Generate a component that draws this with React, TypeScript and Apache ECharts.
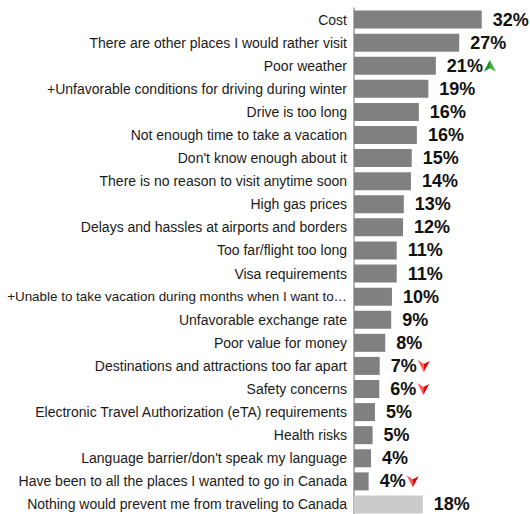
import React, { useEffect, useRef } from "react";
import * as echarts from "echarts";

const categories = [
  "Cost",
  "There are other places I would rather visit",
  "Poor weather",
  "+Unfavorable conditions for driving during winter",
  "Drive is too long",
  "Not enough time to take a vacation",
  "Don't know enough about it",
  "There is no reason to visit anytime soon",
  "High gas prices",
  "Delays and hassles at airports and borders",
  "Too far/flight too long",
  "Visa requirements",
  "+Unable to take vacation during months when I want to\u2026",
  "Unfavorable exchange rate",
  "Poor value for money",
  "Destinations and attractions too far apart",
  "Safety concerns",
  "Electronic Travel Authorization (eTA) requirements",
  "Health risks",
  "Language barrier/don't speak my language",
  "Have been to all the places I wanted to go in Canada",
  "Nothing would prevent me from traveling to Canada",
];

const values = [
  32.3, 26.6, 20.7, 18.8, 16.4, 15.9, 14.6, 14.4, 12.6, 12.4, 10.8, 10.8, 9.6,
  9.4, 7.9, 6.5, 6.4, 5.3, 4.7, 4.3, 3.7, 17.4,
];

const displayLabels = [
  32, 27, 21, 19, 16, 16, 15, 14, 13, 12, 11, 11, 10, 9, 8, 7, 6, 5, 5, 4, 4, 18,
];

// "up" / "down" / "" trend markers
const trends = [
  "", "", "up", "", "", "", "", "", "", "", "", "", "", "", "", "down", "down",
  "", "", "", "down", "",
];

const highlightIndex = 21;
const longLabelIndex = 12;

const upSvg =
  '<svg xmlns="http://www.w3.org/2000/svg" width="14" height="12" viewBox="0 0 14 12">' +
  '<polygon points="7,0 7,8.5 1,12" fill="#1f8a1f"/>' +
  '<polygon points="7,0 13,12 7,8.5" fill="#3cb043"/>' +
  "</svg>";
const downSvg =
  '<svg xmlns="http://www.w3.org/2000/svg" width="14" height="12" viewBox="0 0 14 12">' +
  '<polygon points="1,0 7,4 7,12" fill="#ff5a5a"/>' +
  '<polygon points="7,4 13,1 7,12" fill="#e60000"/>' +
  "</svg>";
const toUrl = (s: string) =>
  "data:image/svg+xml;charset=utf-8," + encodeURIComponent(s);

const FONT = "Arial, 'Liberation Sans', Helvetica, sans-serif";

export default function App() {
  const ref = useRef<HTMLDivElement>(null);

  useEffect(() => {
    if (!ref.current) return;
    const chart = echarts.init(ref.current, undefined, { renderer: "svg" });
    chart.setOption({
      animation: false,
      grid: {
        left: 354,
        right: 2,
        top: 8,
        bottom: -2,
        containLabel: false,
        outerBoundsMode: "none",
      },
      xAxis: {
        type: "value",
        min: 0,
        max: 44,
        show: false,
      },
      yAxis: {
        type: "category",
        inverse: true,
        data: categories,
        axisLine: { show: true, lineStyle: { color: "#9a9a9a", width: 1.5 } },
        axisTick: { show: false },
        axisLabel: {
          margin: 7,
          fontSize: 14,
          color: "#1a1a1a",
          fontFamily: FONT,
          interval: 0,
          formatter: (value: string, index: number) =>
            index === longLabelIndex ? `{s|${value}}` : value,
          rich: {
            s: {
              fontSize: 13.4,
              color: "#1a1a1a",
              fontFamily: FONT,
            },
          },
        },
      },
      series: [
        {
          type: "bar",
          barWidth: 18,
          data: values.map((v, i) => ({
            value: v,
            itemStyle: { color: i === highlightIndex ? "#cbcbcb" : "#808080" },
          })),
          label: {
            show: true,
            position: "right",
            distance: 11,
            formatter: (p: any) => {
              const t = trends[p.dataIndex];
              const base = `{v|${displayLabels[p.dataIndex]}%}`;
              if (t === "up") return base + "{up|}";
              if (t === "down") return base + "{dn|}";
              return base;
            },
            rich: {
              v: {
                fontSize: 18,
                fontWeight: "bold",
                color: "#111111",
                fontFamily: FONT,
                lineHeight: 18,
              },
              up: {
                width: 14,
                height: 12,
                backgroundColor: { image: toUrl(upSvg) },
              },
              dn: {
                width: 14,
                height: 12,
                backgroundColor: { image: toUrl(downSvg) },
              },
            },
          },
        },
      ],
    });
    return () => chart.dispose();
  }, []);

  return (
    <div
      ref={ref}
      style={{ position: "absolute", left: 0, top: 0, width: 530, height: 514 }}
    />
  );
}
